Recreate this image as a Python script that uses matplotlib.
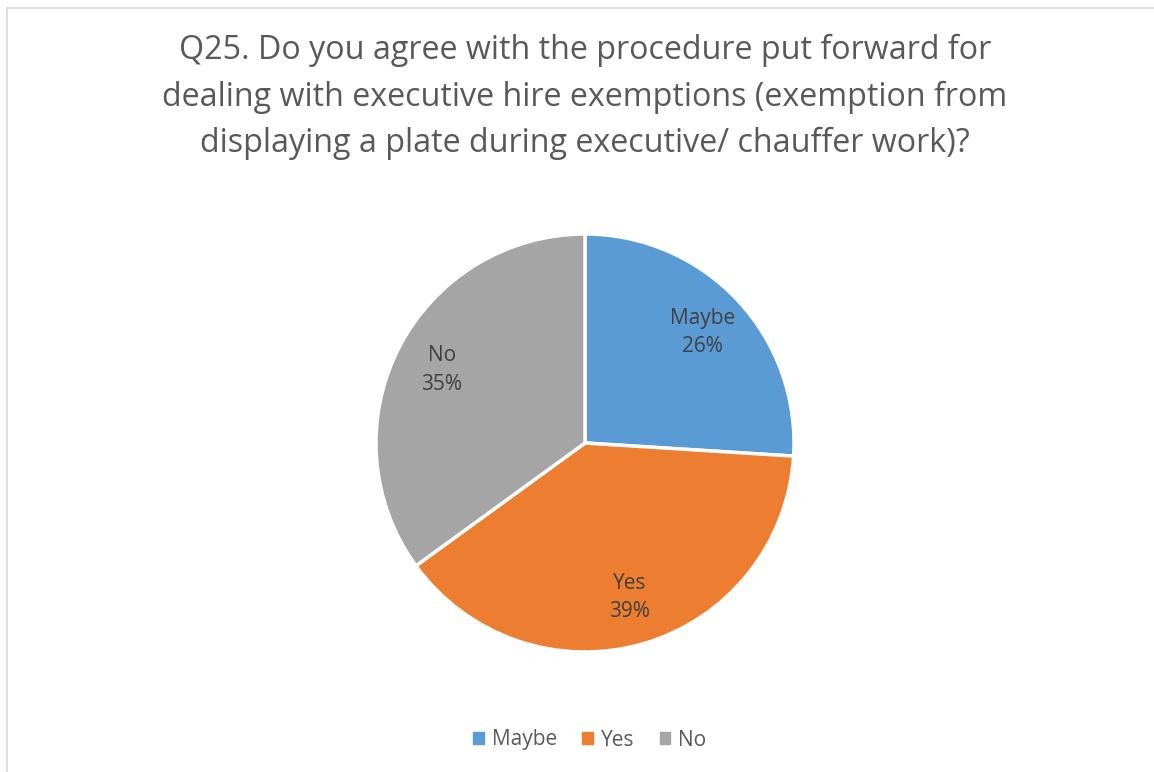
import matplotlib.pyplot as plt
import matplotlib.patches as mpatches
import matplotlib.lines as mlines

categories = ['Maybe', 'Yes', 'No']
shares = [26, 39, 35]
colors = ['#5B9BD5', '#ED7D31', '#A5A5A5']
title = ('Q25. Do you agree with the procedure put forward for\n'
         'dealing with executive hire exemptions (exemption from\n'
         'displaying a plate during executive/ chauffer work)?')

plt.rcParams['font.family'] = ['Open Sans', 'DejaVu Sans']

fig = plt.figure(figsize=(11.54, 7.72), dpi=100)
fig.patch.set_facecolor('white')

# light frame on the left and top
fig.add_artist(mlines.Line2D([7 / 1154, 7 / 1154], [0, 1 - 8 / 772],
                             color='#D9D9D9', lw=1.2))
fig.add_artist(mlines.Line2D([7 / 1154, 1], [1 - 8 / 772, 1 - 8 / 772],
                             color='#D9D9D9', lw=1.2))

fig.text(0.507, 1 - 97 / 772, title, ha='center', va='center',
         fontsize=23.2, color='#595959', linespacing=1.53)

ax = fig.add_axes([(585 - 209) / 1154, 1 - (443 + 209) / 772, 418 / 1154, 418 / 772])
wedges, texts = ax.pie(shares, colors=colors, startangle=90, counterclock=False,
                       labels=[f'{c}\n{s}%' for c, s in zip(categories, shares)],
                       labeldistance=0.77,
                       wedgeprops=dict(edgecolor='white', linewidth=2.5))
for t in texts:
    t.set_ha('center')
    t.set_va('center')
    t.set_fontsize(15)
    t.set_color('#404040')
    t.set_linespacing(1.45)
ax.set_xlim(-1, 1)
ax.set_ylim(-1, 1)
ax.set_aspect('equal')

handles = [mpatches.Patch(color=c, label=l) for c, l in zip(colors, categories)]
leg = fig.legend(handles=handles, loc='center', bbox_to_anchor=(590 / 1154, 1 - 740 / 772),
                 ncol=3, frameon=False, fontsize=15, handlelength=0.5, handleheight=0.5,
                 handletextpad=0.4, columnspacing=1.2)
for t in leg.get_texts():
    t.set_color('#595959')

fig.savefig('out.png', dpi=100)
